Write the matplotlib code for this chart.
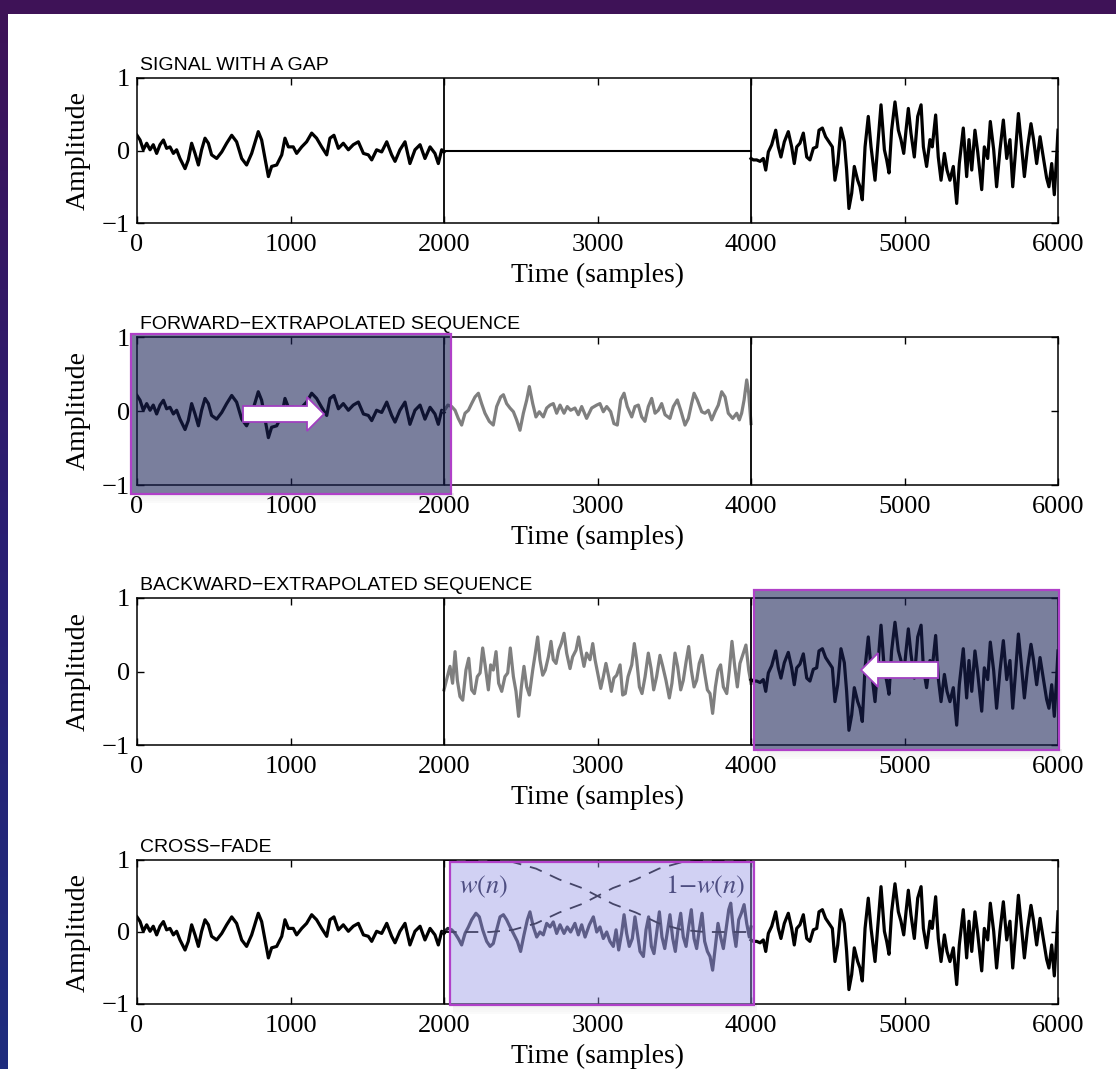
import numpy as np
import matplotlib
matplotlib.use('Agg')
import matplotlib.pyplot as plt
from matplotlib.patches import Rectangle, Polygon
from matplotlib.colors import LinearSegmentedColormap

plt.rcParams['font.family'] = ['Liberation Serif', 'DejaVu Serif']
plt.rcParams['mathtext.fontset'] = 'stix'

# ---- data: (sample, amplitude) ----
left_pts = [(0, 0.21), (20, 0.145), (41, 0.01), (63, 0.10), (85, 0.01), (106, 0.08), (128, -0.04),
            (150, 0.08), (172, 0.145), (193, 0.03), (215, 0.05), (237, -0.04), (258, 0.01), (280, -0.11),
            (313, -0.25), (334, -0.13), (356, 0.10), (378, -0.04), (400, -0.20), (421, 0.01), (443, 0.17),
            (465, 0.10), (486, -0.06), (519, -0.11), (552, -0.02), (584, 0.10), (617, 0.21), (649, 0.12),
            (682, -0.11), (714, -0.20), (747, -0.04), (790, 0.26), (812, 0.145), (834, -0.11), (856, -0.36),
            (877, -0.22), (910, -0.20), (943, -0.06), (964, 0.17), (986, 0.05), (1018, 0.05), (1040, -0.04),
            (1073, 0.05), (1105, 0.12), (1138, 0.24), (1170, 0.17), (1203, 0.05), (1236, -0.06), (1257, 0.17),
            (1283, 0.21), (1312, 0.03), (1344, 0.10), (1377, 0.01), (1409, 0.08), (1442, 0.12), (1475, -0.04),
            (1507, -0.06), (1529, -0.13), (1561, 0.01), (1594, -0.02), (1627, 0.12), (1659, -0.06),
            (1681, -0.15), (1713, 0.01), (1746, 0.12), (1778, -0.18), (1811, 0.01), (1844, 0.08),
            (1876, -0.11), (1909, 0.05), (1941, -0.04), (1963, -0.18), (1985, 0.01), (2000, -0.02)]

right_pts = [(4000, -0.11), (4015, -0.13), (4037, -0.13), (4059, -0.15), (4080, -0.11), (4096, -0.27),
             (4113, -0.02), (4135, 0.08), (4161, 0.28), (4178, 0.05), (4195, -0.09), (4217, 0.12),
             (4243, 0.26), (4265, 0.05), (4282, -0.18), (4298, 0.05), (4319, 0.10), (4341, 0.24),
             (4363, -0.09), (4384, -0.13), (4406, 0.03), (4428, 0.05), (4443, 0.28), (4465, 0.31),
             (4486, 0.19), (4508, 0.12), (4530, 0.05), (4547, -0.41), (4565, -0.18), (4586, 0.31),
             (4608, 0.12), (4623, -0.27), (4638, -0.80), (4656, -0.59), (4673, -0.22), (4695, -0.41),
             (4710, -0.50), (4725, -0.68), (4743, 0.05), (4764, 0.47), (4782, 0.05), (4808, -0.41),
             (4825, 0.05), (4847, 0.63), (4869, 0.01), (4884, -0.13), (4899, -0.31), (4916, 0.28),
             (4938, 0.67), (4960, 0.28), (4977, 0.15), (4995, -0.04), (5010, 0.28), (5025, 0.58),
             (5042, 0.24), (5064, -0.09), (5086, 0.47), (5108, 0.63), (5123, 0.05), (5144, -0.22),
             (5166, 0.15), (5181, 0.05), (5203, 0.49), (5220, -0.09), (5238, -0.41), (5260, -0.04),
             (5277, -0.27), (5296, -0.41), (5318, -0.22), (5340, -0.73), (5357, -0.18), (5383, 0.31),
             (5405, -0.36), (5420, 0.15), (5438, -0.27), (5459, 0.28), (5477, -0.02), (5503, -0.54),
             (5520, 0.05), (5542, -0.11), (5559, 0.40), (5581, 0.01), (5600, -0.50), (5622, 0.01),
             (5644, 0.42), (5666, -0.11), (5687, 0.15), (5705, -0.50), (5724, 0.01), (5742, 0.51),
             (5763, 0.05), (5781, -0.36), (5802, 0.05), (5824, 0.37), (5841, 0.15), (5861, -0.18),
             (5883, 0.19), (5904, -0.09), (5926, -0.38), (5941, -0.50), (5959, -0.18), (5976, -0.61),
             (5991, -0.09), (6000, 0.28)]

gap_pts = [(2000, 0.0), (4000, 0.0)]

fwd_pts = [(2000, 0.0), (2025, 0.08), (2050, 0.06), (2072, 0.01), (2093, -0.10), (2115, -0.19),
           (2137, -0.03), (2159, 0.01), (2180, 0.10), (2202, 0.19), (2224, 0.24), (2245, 0.10),
           (2267, -0.03), (2295, -0.14), (2321, -0.19), (2343, 0.06), (2369, 0.19), (2387, 0.22),
           (2408, 0.10), (2430, 0.04), (2452, -0.01), (2473, -0.12), (2495, -0.26), (2517, -0.03),
           (2539, 0.15), (2556, 0.33), (2578, 0.10), (2599, -0.08), (2621, -0.01), (2647, -0.08),
           (2669, 0.04), (2691, 0.08), (2712, 0.10), (2734, -0.03), (2756, 0.08), (2782, -0.03),
           (2803, 0.06), (2825, 0.01), (2853, 0.04), (2875, -0.05), (2897, 0.06), (2929, -0.10),
           (2962, 0.04), (2995, 0.08), (3016, 0.10), (3038, -0.01), (3060, 0.06), (3086, -0.01),
           (3107, -0.17), (3129, -0.19), (3151, 0.15), (3173, 0.24), (3194, 0.06), (3223, -0.08),
           (3244, 0.06), (3266, 0.08), (3288, -0.08), (3309, -0.14), (3331, 0.06), (3353, 0.17),
           (3375, -0.03), (3396, 0.01), (3418, 0.10), (3440, -0.05), (3472, -0.10), (3494, 0.06),
           (3520, 0.15), (3542, 0.01), (3570, -0.19), (3592, -0.10), (3613, 0.10), (3629, 0.24),
           (3650, 0.15), (3679, -0.01), (3700, -0.03), (3722, 0.01), (3744, -0.12), (3766, -0.01),
           (3787, 0.08), (3809, 0.26), (3831, 0.19), (3852, -0.03), (3881, -0.10), (3907, -0.03),
           (3924, -0.12), (3939, -0.03), (3955, 0.15), (3972, 0.42), (3985, 0.24), (4000, -0.17)]

bwd_pts = [(2000, -0.25), (2022, -0.07), (2039, 0.07), (2056, -0.16), (2072, 0.27), (2087, -0.12),
           (2104, -0.34), (2122, -0.39), (2143, 0.02), (2161, 0.18), (2180, -0.25), (2198, -0.30),
           (2217, -0.07), (2235, -0.02), (2252, 0.32), (2269, 0.07), (2289, -0.25), (2304, 0.09),
           (2321, 0.02), (2339, 0.27), (2356, -0.16), (2376, -0.27), (2397, -0.07), (2415, -0.02),
           (2432, 0.32), (2452, -0.07), (2469, -0.27), (2486, -0.61), (2504, -0.21), (2521, 0.07),
           (2539, -0.21), (2556, -0.32), (2578, 0.02), (2595, 0.25), (2610, 0.47), (2625, 0.16),
           (2643, -0.05), (2660, 0.02), (2680, 0.20), (2697, 0.41), (2712, 0.16), (2730, 0.11),
           (2747, 0.29), (2764, 0.38), (2782, 0.52), (2799, 0.25), (2821, 0.04), (2838, 0.20),
           (2860, 0.29), (2877, 0.47), (2895, 0.25), (2912, 0.07), (2929, 0.25), (2951, 0.16),
           (2969, 0.38), (2984, 0.16), (3001, -0.02), (3021, -0.23), (3038, -0.07), (3055, 0.11),
           (3073, -0.07), (3090, -0.27), (3107, -0.09), (3125, -0.05), (3147, 0.09), (3164, -0.32),
           (3181, -0.30), (3199, -0.07), (3223, 0.09), (3240, 0.38), (3255, 0.16), (3273, -0.21),
           (3290, -0.30), (3310, -0.07), (3331, 0.25), (3349, 0.04), (3366, -0.25), (3385, -0.07),
           (3407, 0.22), (3425, 0.07), (3446, -0.12), (3468, -0.36), (3485, -0.16), (3505, 0.25),
           (3522, 0.07), (3542, -0.25), (3559, -0.12), (3577, 0.13), (3594, 0.34), (3611, 0.02),
           (3629, -0.21), (3646, -0.12), (3663, 0.11), (3681, 0.22), (3698, -0.02), (3716, -0.25),
           (3733, -0.30), (3750, -0.57), (3768, -0.21), (3785, 0.02), (3802, 0.09), (3820, -0.21),
           (3842, -0.30), (3859, 0.02), (3876, 0.41), (3894, 0.07), (3911, -0.21), (3928, 0.11),
           (3950, 0.25), (3967, 0.36), (3985, 0.02), (4000, -0.16)]

xfade_pts = [(2000, 0.0), (2025, 0.05), (2050, 0.03), (2072, -0.02), (2093, -0.09), (2115, -0.18),
             (2137, -0.02), (2159, 0.07), (2180, 0.17), (2208, 0.26), (2230, 0.21), (2252, 0.03),
             (2278, -0.13), (2300, -0.20), (2321, -0.16), (2343, 0.03), (2365, 0.21), (2387, 0.24),
             (2408, 0.17), (2430, 0.07), (2452, -0.02), (2478, -0.13), (2499, -0.27), (2521, -0.04),
             (2543, 0.17), (2560, 0.28), (2582, 0.07), (2604, -0.07), (2625, 0.00), (2647, -0.04),
             (2669, 0.12), (2691, 0.07), (2712, 0.14), (2734, -0.02), (2756, 0.10), (2782, -0.02),
             (2803, 0.07), (2825, 0.00), (2853, 0.12), (2875, -0.04), (2897, 0.10), (2919, -0.07),
             (2947, 0.10), (2973, 0.21), (2995, 0.00), (3016, 0.07), (3038, -0.09), (3060, 0.00),
             (3081, -0.13), (3103, -0.20), (3121, 0.03), (3138, -0.25), (3157, -0.02), (3173, 0.24),
             (3190, -0.02), (3207, -0.20), (3227, -0.09), (3244, 0.21), (3260, -0.02), (3277, -0.27),
             (3299, -0.34), (3316, 0.03), (3333, 0.21), (3351, -0.20), (3368, -0.30), (3385, -0.02),
             (3403, 0.28), (3420, -0.07), (3438, -0.23), (3455, 0.00), (3472, 0.24), (3490, -0.09),
             (3507, -0.27), (3524, 0.03), (3542, 0.26), (3559, -0.07), (3577, -0.20), (3594, 0.07),
             (3611, 0.31), (3629, -0.09), (3646, -0.23), (3663, 0.03), (3681, 0.26), (3698, -0.13),
             (3716, -0.27), (3733, -0.34), (3750, -0.53), (3768, -0.20), (3785, 0.12), (3802, -0.07),
             (3820, -0.23), (3837, 0.03), (3855, 0.31), (3868, 0.40), (3885, 0.03), (3902, -0.20),
             (3920, 0.17), (3937, 0.26), (3955, 0.38), (3972, 0.12), (3989, -0.07), (4000, 0.07)]

# fade windows (dashed curves)
w_t = [2000, 2300, 2450, 2600, 2750, 2900, 3000, 3100, 3250, 3400, 3550, 3700, 4000]
w_fall = [1.0, 1.0, 0.97, 0.88, 0.73, 0.61, 0.5, 0.39, 0.27, 0.12, 0.03, 0.0, 0.0]
w_rise = [0.0, 0.0, 0.03, 0.12, 0.27, 0.39, 0.5, 0.61, 0.73, 0.88, 0.97, 1.0, 1.0]

titles = ['SIGNAL WITH A GAP', 'FORWARD\u2212EXTRAPOLATED SEQUENCE',
          'BACKWARD\u2212EXTRAPOLATED SEQUENCE', 'CROSS\u2212FADE']
xticks = [0, 1000, 2000, 3000, 4000, 5000, 6000]
yticks = [-1, 0, 1]


def unzip(pts):
    a = np.array(pts, dtype=float)
    return a[:, 0], a[:, 1]


W, H = 1116, 1069
fig = plt.figure(figsize=(W / 100, H / 100), dpi=100)
fig.patch.set_facecolor('white')


def fx(px, py):
    return px / W, 1 - py / H


# slide background strips
bg = fig.add_axes([0, 0, 1, 1], zorder=-10)
bg.set_xlim(0, W)
bg.set_ylim(H, 0)
bg.axis('off')
strip_cmap = LinearSegmentedColormap.from_list('strip', ['#3e1257', '#2a1f73', '#1f2d7e'])
bg.imshow(np.linspace(0, 1, 200).reshape(-1, 1), cmap=strip_cmap, extent=(0, 8, H, 0), aspect='auto')
bg.add_patch(Rectangle((0, 0), W, 14, facecolor='#3e1257', edgecolor='none'))

# axes boxes in pixels: (top, bottom)
rows = [(78, 223), (337, 485), (598, 745), (860, 1004)]
ax_left, ax_right = 137, 1058
axes = []
for top, bot in rows:
    ax = fig.add_axes([ax_left / W, 1 - bot / H, (ax_right - ax_left) / W, (bot - top) / H])
    ax.set_xlim(0, 6000)
    ax.set_ylim(-1, 1)
    ax.set_xticks(xticks)
    ax.set_yticks(yticks)
    ax.tick_params(direction='in', top=True, right=True, length=5, width=1, labelsize=19)
    ax.tick_params(axis='x', pad=8)
    ax.tick_params(axis='y', pad=5)
    for s in ax.spines.values():
        s.set_linewidth(1.1)
    ax.set_ylabel('Amplitude', fontsize=20)
    ax.yaxis.set_label_coords(-0.05, 0.5)
    ax.set_xlabel('Time (samples)', fontsize=20)
    ax.xaxis.set_label_coords(0.5, -40 / (bot - top))
    axes.append(ax)

for ax, title in zip(axes, titles):
    ax.text(0.003, 1.03, title, transform=ax.transAxes, ha='left', va='bottom',
            fontsize=14, family=['Liberation Sans', 'DejaVu Sans'])

lw = 2.3
grey = '#7f7f7f'
lt, la = unzip(left_pts)
rt, ra = unzip(right_pts)
gt, ga = unzip(gap_pts)
ft, fa = unzip(fwd_pts)
bt, ba = unzip(bwd_pts)
xt, xa = unzip(xfade_pts)

# 1: signal with gap
a1 = axes[0]
a1.plot(lt, la, color='black', lw=lw)
a1.plot(gt, ga, color='black', lw=1.5)
a1.plot(rt, ra, color='black', lw=lw)

# 2: forward extrapolation
a2 = axes[1]
a2.plot(lt, la, color='black', lw=lw)
a2.plot(ft, fa, color=grey, lw=lw)

# 3: backward extrapolation
a3 = axes[2]
a3.plot(bt, ba, color=grey, lw=lw)
a3.plot(rt, ra, color='black', lw=lw)

# 4: cross-fade
a4 = axes[3]
a4.plot(lt, la, color='black', lw=lw)
a4.plot(rt, ra, color='black', lw=lw)
a4.plot(xt, xa, color='#2c2c3c', lw=lw)
a4.plot(w_t, w_fall, color='black', lw=1.3, ls=(0, (7, 5)))
a4.plot(w_t, w_rise, color='black', lw=1.3, ls=(0, (7, 5)))
a4.text(2100, 0.62, r'$w(n)$', fontsize=19, ha='left', va='center', color='#101030')
a4.text(3960, 0.62, r'$1{-}w(n)$', fontsize=19, ha='right', va='center', color='#101030')

for ax in axes:
    for m in (2000, 4000):
        ax.axvline(m, color='black', lw=1.3)


# highlight boxes on top of the plots (pixel rectangles)
def box(x0, y0, x1, y1, face, alpha):
    for k, a in enumerate([0.07, 0.05, 0.04, 0.03, 0.02]):
        fig.patches.append(Rectangle(fx(x0 + 3, y1 + 2 * k + 1), (x1 - x0) / W, 2 / H,
                                     transform=fig.transFigure, facecolor='black', alpha=a,
                                     edgecolor='none', zorder=5))
    fig.patches.append(Rectangle(fx(x0, y1), (x1 - x0) / W, (y1 - y0) / H, transform=fig.transFigure,
                                 facecolor=face, alpha=alpha, edgecolor='none', zorder=6))
    fig.patches.append(Rectangle(fx(x0, y1), (x1 - x0) / W, (y1 - y0) / H, transform=fig.transFigure,
                                 facecolor='none', edgecolor='#b040c8', lw=1.6, zorder=7))


box(131, 334, 451, 494, '#1a2256', 0.58)
box(754, 590, 1059, 750, '#1a2256', 0.58)
box(450, 862, 754, 1005, '#9a9ae6', 0.45)


def arrow(pts):
    fig.patches.append(Polygon([fx(*p) for p in pts], closed=True, transform=fig.transFigure,
                               facecolor='white', edgecolor='#a040c0', lw=1.3, zorder=8))


arrow([(243, 406), (307, 406), (307, 397), (324, 414), (307, 431), (307, 422), (243, 422)])
arrow([(861, 670), (878, 653), (878, 662), (938, 662), (938, 678), (878, 678), (878, 687)])

fig.savefig('out.png', dpi=100)
